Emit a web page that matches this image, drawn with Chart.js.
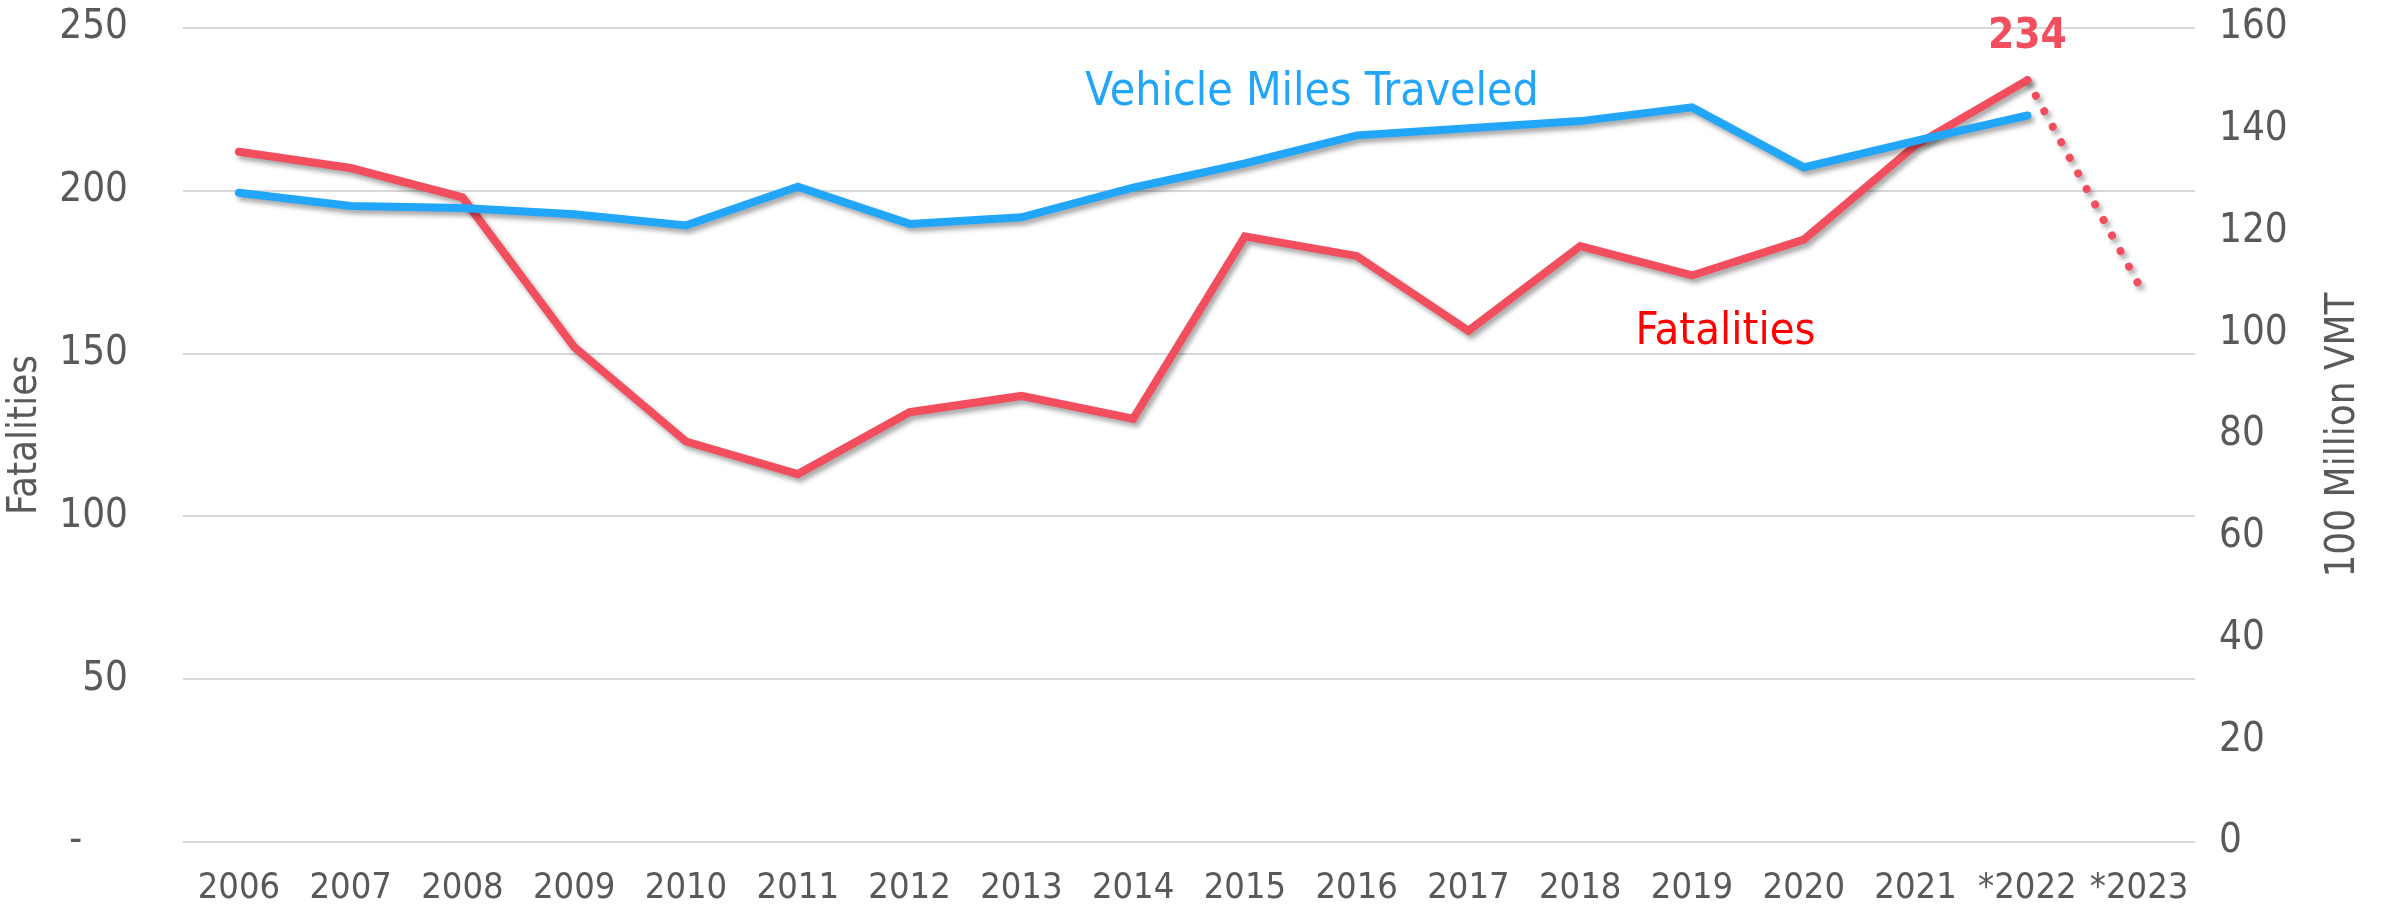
<!DOCTYPE html>
<html>
<head>
<meta charset="utf-8">
<script src="https://cdn.jsdelivr.net/npm/chart.js@4/dist/chart.umd.min.js"></script>
<style>
  html, body { margin: 0; padding: 0; background: #fff; }
  #wrap { width: 2387px; height: 909px; position: relative; }
</style>
</head>
<body>
<div id="wrap"><canvas id="chart"></canvas></div>
<script>
const years = ['2006', '2007', '2008', '2009', '2010', '2011', '2012', '2013', '2014',
  '2015', '2016', '2017', '2018', '2019', '2020', '2021', '*2022', '*2023'];
const fatalities = [212, 207, 198, 152, 123, 113, 132, 137, 130, 186, 180, 157, 183, 174, 185, 214, 234, 171];
const vmt = [127.6, 125.0, 124.6, 123.4, 121.2, 128.8, 121.5, 122.8, 128.6, 133.4, 138.9, 140.3, 141.7, 144.4, 132.6, 137.8, 142.8, null];
const fatalTicks = [0, 50, 100, 150, 200, 250];
const vmtTicks = [0, 20, 40, 60, 80, 100, 120, 140, 160];

const RED = '#f24e5d';
const BLUE = '#22a6fa';
const GREY = '#595959';
const FONT = '"DejaVu Sans Condensed", "DejaVu Sans", sans-serif';

// last fatalities segment (2022 -> 2023) is a projection, drawn dotted
const isProjection = ctx => ctx.p1DataIndex === years.length - 1;

// keep the vertical axes from pushing the plot area in
const noVPad = s => { s.paddingTop = 0; s.paddingBottom = 0; };

const overlay = {
  id: 'overlay',
  beforeDatasetsDraw(chart) {
    const ctx = chart.ctx;
    ctx.save();
    ctx.shadowColor = 'rgba(0,0,0,0.35)';
    ctx.shadowBlur = 5;
    ctx.shadowOffsetX = 3;
    ctx.shadowOffsetY = 4;
  },
  afterDatasetsDraw(chart) {
    const ctx = chart.ctx;
    ctx.restore();
    const x = chart.scales.x, y = chart.scales.y, y1 = chart.scales.y1;
    const area = chart.chartArea;
    ctx.save();
    ctx.textAlign = 'center';
    ctx.textBaseline = 'middle';

    ctx.fillStyle = BLUE;
    ctx.font = '46px ' + FONT;
    ctx.fillText('Vehicle Miles Traveled', x.getPixelForValue(9.6), y1.getPixelForValue(147.3));

    ctx.fillStyle = '#ff0000';
    ctx.font = '45px ' + FONT;
    ctx.fillText('Fatalities', x.getPixelForValue(13.3), y.getPixelForValue(156.4));

    const i22 = years.indexOf('*2022');
    ctx.fillStyle = RED;
    ctx.font = 'bold 42px ' + FONT;
    ctx.fillText(String(fatalities[i22]), x.getPixelForValue(i22), y.getPixelForValue(fatalities[i22]) - 43);

    // right axis title reads bottom-to-top
    ctx.fillStyle = GREY;
    ctx.font = '40px ' + FONT;
    ctx.translate(2344, (area.top + area.bottom) / 2);
    ctx.rotate(-Math.PI / 2);
    ctx.fillText('100 Million VMT', 0, 0);
    ctx.restore();
  }
};

new Chart(document.getElementById('chart'), {
  type: 'line',
  data: {
    labels: years,
    datasets: [
      {
        label: 'Vehicle Miles Traveled',
        data: vmt,
        yAxisID: 'y1',
        borderColor: BLUE,
        borderWidth: 8,
        borderCapStyle: 'round',
        borderJoinStyle: 'miter',
        pointRadius: 0,
        tension: 0
      },
      {
        label: 'Fatalities',
        data: fatalities,
        yAxisID: 'y',
        borderColor: RED,
        borderWidth: 8,
        borderCapStyle: 'round',
        borderJoinStyle: 'miter',
        pointRadius: 0,
        tension: 0,
        segment: {
          borderDash: ctx => isProjection(ctx) ? [0.1, 17.6] : undefined
        }
      }
    ]
  },
  options: {
    responsive: true,
    maintainAspectRatio: false,
    animation: false,
    layout: { padding: { top: 28, left: 0, right: 0, bottom: 0 } },
    plugins: {
      legend: { display: false },
      tooltip: { enabled: false }
    },
    scales: {
      x: {
        offset: true,
        grid: { display: false, drawTicks: false },
        border: { display: false },
        ticks: {
          color: GREY,
          padding: 25,
          maxRotation: 0,
          autoSkip: false,
          font: { family: FONT, size: 36 }
        },
        afterFit: s => { s.height = 67; }
      },
      y: {
        position: 'left',
        min: 0,
        max: 250,
        afterBuildTicks: s => { s.ticks = fatalTicks.map(v => ({ value: v })); },
        grid: { color: '#d9d9d9', lineWidth: 2, drawTicks: false },
        border: { display: false },
        ticks: {
          color: GREY,
          padding: 55,
          font: { family: FONT, size: 40 },
          callback: v => v === 0 ? '-    ' : String(v)
        },
        title: {
          display: true,
          text: 'Fatalities',
          color: GREY,
          padding: 2,
          font: { family: FONT, size: 40 }
        },
        afterFit: s => { s.width = 183; noVPad(s); }
      },
      y1: {
        position: 'right',
        min: 0,
        max: 160,
        afterBuildTicks: s => { s.ticks = vmtTicks.map(v => ({ value: v })); },
        grid: { display: false, drawTicks: false },
        border: { display: false },
        ticks: {
          color: GREY,
          padding: 24,
          font: { family: FONT, size: 40 }
        },
        afterFit: s => { s.width = 192; noVPad(s); }
      }
    }
  },
  plugins: [overlay]
});
</script>
</body>
</html>
